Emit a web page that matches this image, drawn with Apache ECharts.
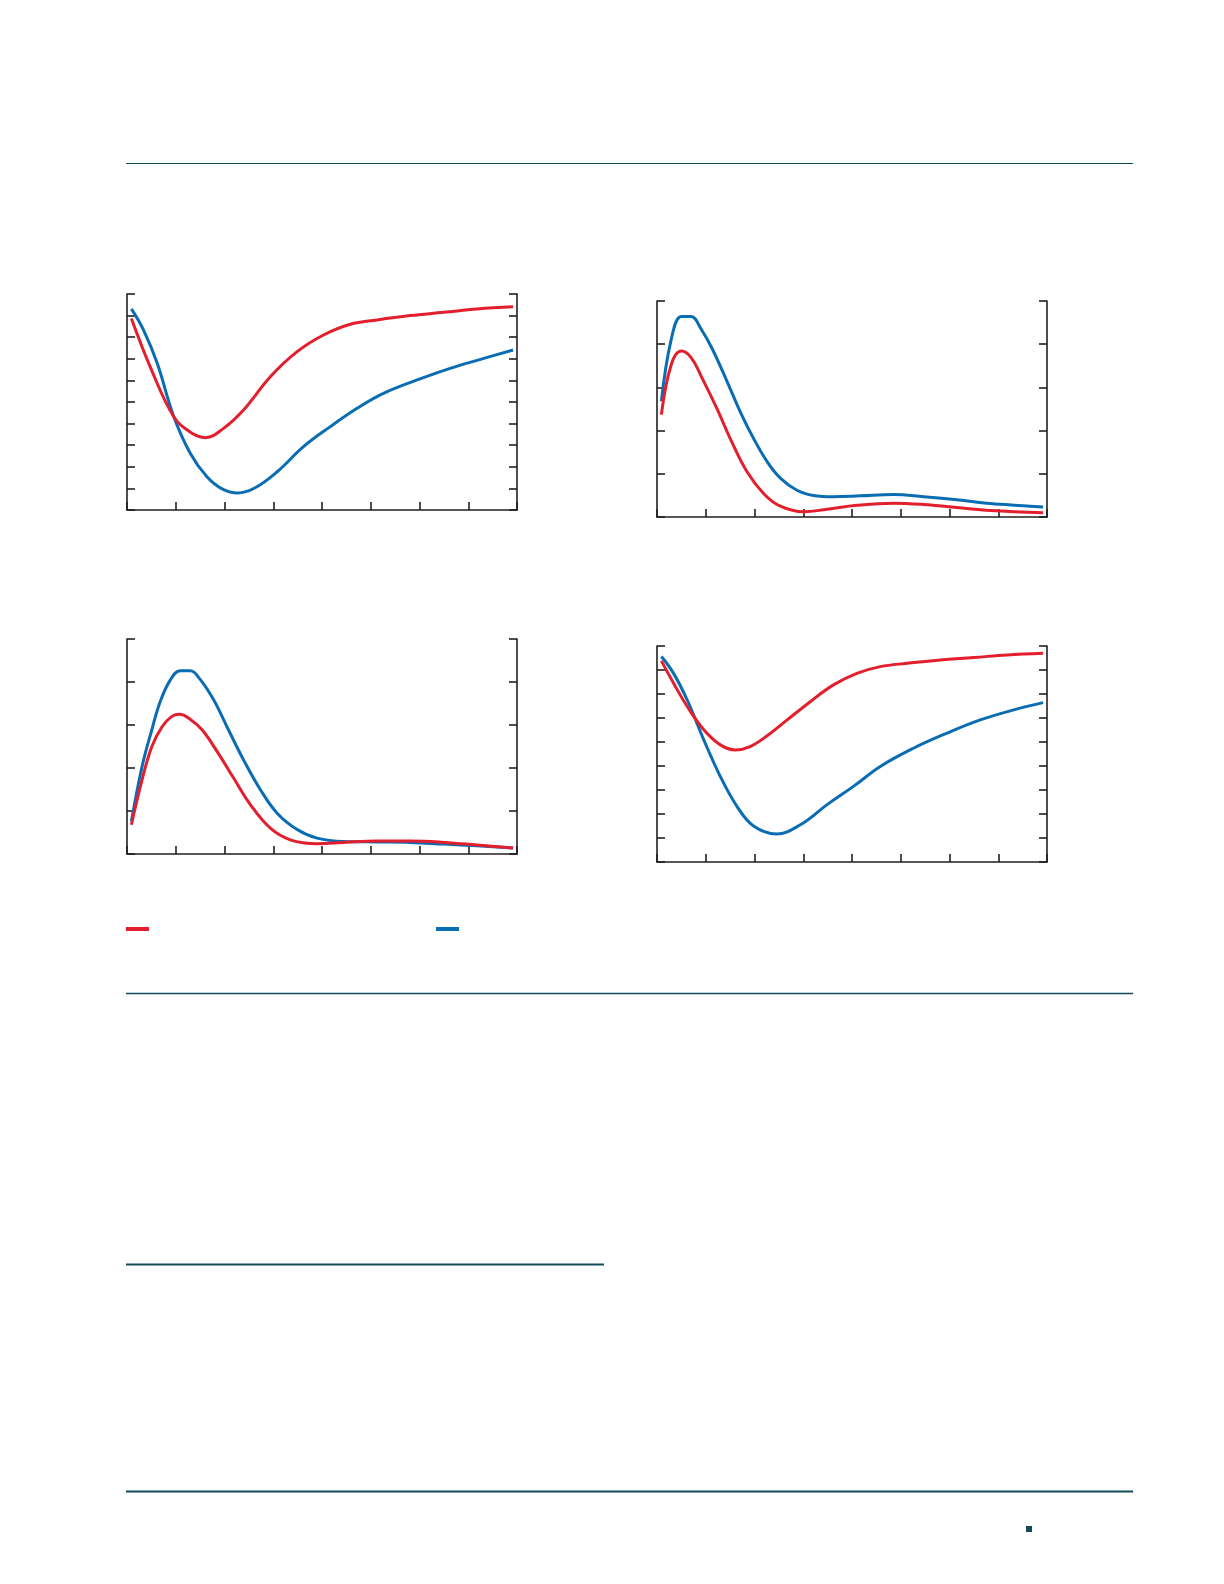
<!DOCTYPE html>
<html>
<head>
<meta charset="utf-8">
<script src="https://cdn.jsdelivr.net/npm/echarts@6/dist/echarts.min.js"></script>
<style>
html,body{margin:0;padding:0;background:#fff;}
#main{width:1224px;height:1584px;}
</style>
</head>
<body>
<div id="main"></div>
<script>
// ---- Data ----
// Chart 1 (top-left), y range 0..10
const c1RedX  = [0.09,0.5,0.96,1.3,1.61,1.98,2.39,2.94,3.49,4.03,4.58,5.13,5.81,6.5,7.18,7.92];
const c1RedY  = [8.87,6.5,4.32,3.6,3.35,3.78,4.63,6.17,7.33,8.10,8.6,8.8,9.0,9.15,9.31,9.41];
const c1BlueX = [0.09,0.34,0.62,0.96,1.30,1.64,1.95,2.27,2.62,3.08,3.62,4.17,4.72,5.26,5.95,6.63,7.32,7.92];
const c1BlueY = [9.31,8.33,6.79,4.32,2.62,1.54,0.98,0.79,1.02,1.77,2.93,3.86,4.71,5.4,6.02,6.56,7.02,7.41];
// Chart 2 (top-right), y range 0..5
const c2RedX  = [0.09,0.29,0.5,0.70,0.91,1.23,1.50,1.85,2.19,2.53,3.01,3.49,4.1,4.85,5.47,6.15,6.84,7.92];
const c2RedY  = [2.37,3.52,3.84,3.69,3.25,2.51,1.82,1.04,0.54,0.25,0.12,0.18,0.27,0.32,0.29,0.22,0.15,0.10];
const c2BlueX = [0.09,0.29,0.5,0.70,0.91,1.13,1.44,1.71,1.98,2.26,2.53,2.87,3.21,3.62,4.17,4.85,5.47,6.15,6.84,7.52,7.92];
const c2BlueY = [2.68,4.10,4.64,4.64,4.34,3.90,3.13,2.43,1.82,1.28,0.90,0.62,0.50,0.47,0.49,0.52,0.47,0.40,0.31,0.26,0.23];
// Chart 3 (bottom-left), y range 0..5
const c3RedX  = [0.09,0.31,0.51,0.72,0.92,1.08,1.3,1.54,1.85,2.19,2.53,2.94,3.35,3.90,4.44,5.13,5.81,6.5,7.18,7.92];
const c3RedY  = [0.68,1.73,2.5,2.96,3.2,3.25,3.13,2.89,2.38,1.76,1.15,0.60,0.33,0.24,0.27,0.30,0.30,0.27,0.21,0.14];
const c3BlueX = [0.09,0.31,0.51,0.68,0.89,1.09,1.3,1.5,1.78,2.05,2.39,2.74,3.08,3.49,3.90,4.44,5.13,5.81,6.5,7.18,7.92];
const c3BlueY = [0.76,2.04,2.89,3.54,4.05,4.26,4.26,4.06,3.58,2.96,2.19,1.49,0.95,0.57,0.37,0.29,0.28,0.27,0.23,0.19,0.14];
// Chart 4 (bottom-right), y range 0..9
const c4RedX  = [0.09,0.34,0.62,0.96,1.3,1.61,1.91,2.26,2.67,3.15,3.62,4.1,4.58,5.13,5.81,6.5,7.18,7.92];
const c4RedY  = [8.38,7.45,6.48,5.51,4.88,4.67,4.81,5.26,5.92,6.69,7.38,7.86,8.14,8.28,8.42,8.52,8.63,8.70];
const c4BlueX = [0.09,0.34,0.62,0.96,1.3,1.64,1.98,2.45,2.94,3.49,4.03,4.58,5.26,5.95,6.63,7.32,7.92];
const c4BlueY = [8.56,7.86,6.75,5.09,3.56,2.32,1.50,1.17,1.55,2.39,3.15,3.98,4.74,5.37,5.92,6.34,6.64];
// Axis ranges per chart
const yMax = [10, 5, 5, 9];
const xMax = 8;

// ---- Chart ----
const RED = '#e31f2d', BLUE = '#0a6db4', AXIS = '#231f20', RULE = '#134b5a';
const zip = (xs, ys) => xs.map((x, i) => [x, ys[i]]);
const grids = [
  {left:127, top:294, width:390, height:216},
  {left:657, top:301, width:390, height:216},
  {left:127, top:639, width:390, height:215},
  {left:657, top:646, width:390, height:216}
];
const lineAxis = {show:true, lineStyle:{color:AXIS, width:1.6}};
const tickIn = {show:true, inside:true, length:8, lineStyle:{color:AXIS, width:1.6}};
const xAxes = [], yAxes = [];
grids.forEach((g, i) => {
  xAxes.push({type:'value', gridIndex:i, min:0, max:xMax, interval:1,
    axisLine:lineAxis, axisTick:tickIn, axisLabel:{show:false}, splitLine:{show:false}});
  ['left','right'].forEach(pos => {
    yAxes.push({type:'value', gridIndex:i, position:pos, min:0, max:yMax[i], interval:1,
      axisLine:lineAxis, axisTick:tickIn, axisLabel:{show:false}, splitLine:{show:false}});
  });
});
const pairs = [[c1RedX,c1RedY,c1BlueX,c1BlueY],[c2RedX,c2RedY,c2BlueX,c2BlueY],
               [c3RedX,c3RedY,c3BlueX,c3BlueY],[c4RedX,c4RedY,c4BlueX,c4BlueY]];
const series = [];
pairs.forEach((p, i) => {
  series.push({name:'red', type:'line', xAxisIndex:i, yAxisIndex:2*i, data:zip(p[0],p[1]),
    smooth:0.4, showSymbol:false, lineStyle:{color:RED, width:3}, itemStyle:{color:RED}, z:3});
  series.push({name:'blue', type:'line', xAxisIndex:i, yAxisIndex:2*i, data:zip(p[2],p[3]),
    smooth:0.4, showSymbol:false, lineStyle:{color:BLUE, width:3}, itemStyle:{color:BLUE}, z:2});
});
const ruleLine = (x1, x2, y, w) => ({type:'line', shape:{x1:x1, y1:y, x2:x2, y2:y},
  style:{stroke:RULE, lineWidth:w}, silent:true});
const chart = echarts.init(document.getElementById('main'), null, {renderer:'canvas'});
chart.setOption({
  animation:false,
  backgroundColor:'#fff',
  grid:grids,
  xAxis:xAxes,
  yAxis:yAxes,
  legend:[
    {data:['red'], left:126, top:927, itemWidth:23, itemHeight:4, icon:'rect', formatter:() => '', selectedMode:false, padding:0},
    {data:['blue'], left:436, top:927, itemWidth:23, itemHeight:4, icon:'rect', formatter:() => '', selectedMode:false, padding:0}
  ],
  graphic:[
    ruleLine(126, 1133, 163.5, 1.2),
    ruleLine(126, 1133, 993.5, 1.5),
    ruleLine(126, 604, 1264.5, 2),
    ruleLine(126, 1133, 1491.5, 2),
    {type:'rect', shape:{x:1026, y:1526, width:6, height:6}, style:{fill:RULE}, silent:true}
  ],
  series:series
});
</script>
</body>
</html>
